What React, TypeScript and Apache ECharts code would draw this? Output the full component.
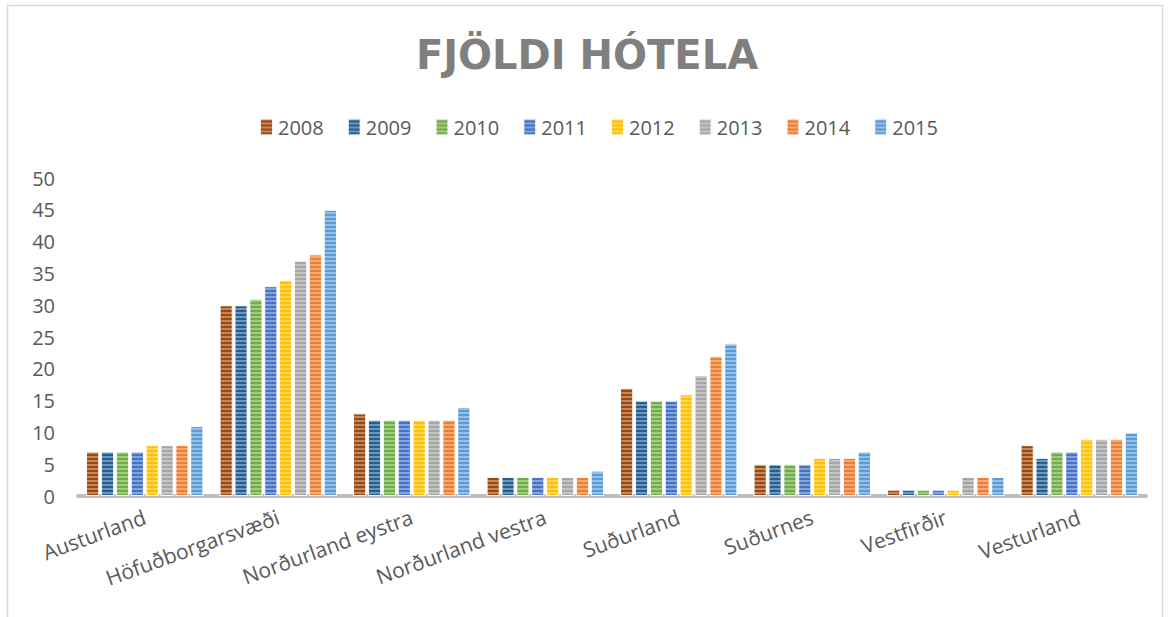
import React, { useEffect, useRef } from "react";
import * as echarts from "echarts";

const categories = [
  "Austurland",
  "Höfuðborgarsvæði",
  "Norðurland eystra",
  "Norðurland vestra",
  "Suðurland",
  "Suðurnes",
  "Vestfirðir",
  "Vesturland",
];

const years = ["2008", "2009", "2010", "2011", "2012", "2013", "2014", "2015"];

const v2008 = [7, 30, 13, 3, 17, 5, 1, 8];
const v2009 = [7, 30, 12, 3, 15, 5, 1, 6];
const v2010 = [7, 31, 12, 3, 15, 5, 1, 7];
const v2011 = [7, 33, 12, 3, 15, 5, 1, 7];
const v2012 = [8, 34, 12, 3, 16, 6, 1, 9];
const v2013 = [8, 37, 12, 3, 19, 6, 3, 9];
const v2014 = [8, 38, 12, 3, 22, 6, 3, 9];
const v2015 = [11, 45, 14, 4, 24, 7, 3, 10];

const seriesValues = [v2008, v2009, v2010, v2011, v2012, v2013, v2014, v2015];

const colors = [
  "#9E480E",
  "#255E91",
  "#70AD47",
  "#4472C4",
  "#FFC000",
  "#A5A5A5",
  "#ED7D31",
  "#5B9BD5",
];

const yTicks = { min: 0, max: 50, interval: 5 };

const title = "FJÖLDI HÓTELA";

export default function App() {
  const ref = useRef<HTMLDivElement>(null);

  useEffect(() => {
    document.body.style.margin = "0";
    if (!ref.current) return;
    const chart = echarts.init(ref.current, null, { renderer: "svg" });
    const font = "'Open Sans', 'Noto Sans', sans-serif";
    const decal = {
      symbol: "rect",
      symbolSize: 1,
      color: "rgba(255,255,255,0.35)",
      dashArrayX: [1, 0],
      dashArrayY: [2, 2],
      rotation: 0,
    };
    chart.setOption({
      animation: false,
      backgroundColor: "#ffffff",
      textStyle: { fontFamily: font },
      title: {
        text: title,
        left: "center",
        top: 30,
        textStyle: {
          fontFamily: "'DejaVu Sans', sans-serif",
          fontSize: 40,
          fontWeight: "bold",
          color: "#7f7f7f",
        },
      },
      legend: {
        top: 112,
        left: 254,
        itemWidth: 13,
        itemHeight: 17,
        itemGap: 23,
        icon: "rect",
        textStyle: { fontFamily: font, fontSize: 20, color: "#595959" },
        data: years,
      },
      graphic: [
        {
          type: "rect",
          shape: { x: 7.5, y: 5.5, width: 1155, height: 700 },
          style: { fill: "none", stroke: "#d9d9d9", lineWidth: 1.5 },
          silent: true,
          z: -1,
        },
      ],
      grid: { left: 78, right: 28, top: 178, bottom: 121 },
      xAxis: {
        type: "category",
        data: categories,
        axisLine: { show: true, lineStyle: { color: "#bfbfbf", width: 4 } },
        axisTick: { show: false },
        axisLabel: {
          rotate: 20,
          interval: 0,
          fontFamily: font,
          fontSize: 21,
          color: "#595959",
          margin: 20,
        },
      },
      yAxis: {
        type: "value",
        min: yTicks.min,
        max: yTicks.max,
        interval: yTicks.interval,
        splitLine: { show: false },
        axisLine: { show: false },
        axisTick: { show: false },
        axisLabel: { fontFamily: font, fontSize: 20, color: "#595959", margin: 23 },
      },
      series: years.map((y, i) => ({
        name: y,
        type: "bar",
        data: seriesValues[i],
        barCategoryGap: "12%",
        barGap: "12%",
        itemStyle: {
          color: colors[i],
          borderColor: "rgba(255,255,255,0.7)",
          borderWidth: 1,
          decal,
        },
      })),
    });
    return () => chart.dispose();
  }, []);

  return <div ref={ref} style={{ width: 1174, height: 617 }} />;
}
